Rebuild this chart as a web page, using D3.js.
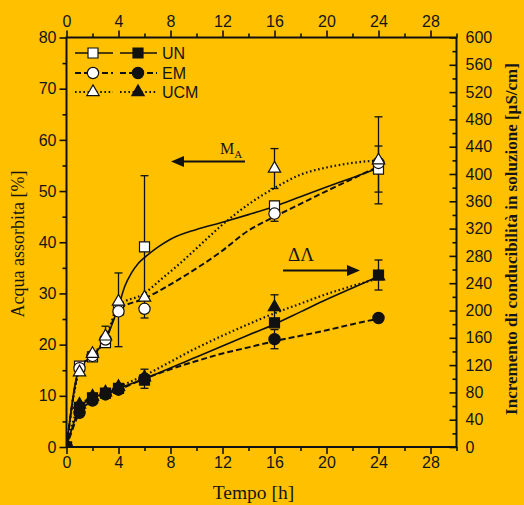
<!DOCTYPE html>
<html>
<head>
<meta charset="utf-8">
<script src="https://cdn.jsdelivr.net/npm/d3@7"></script>
<style>
  body { margin: 0; background: #FFC000; }
  svg { display: block; }
  text { fill: #151515; }
</style>
</head>
<body>
<div class="viewbox"></div>
<script>
// sampling times [h]
const hours = [0, 1, 2, 3, 4, 6, 16, 24];

// water absorbed [%] (left axis, open symbols)
const absUN  = [0, 15.8, 17.6, 20.4, 26.8, 39.1, 47.1, 54.3];
const absEM  = [0, 15.4, 17.8, 21.0, 26.5, 27.0, 45.6, 55.5];
const absUCM = [0, 14.6, 18.2, 21.6, 28.4, 29.2, 54.4, 56.0];
const errAbsUN  = [0, 0, 0, 0, 7.2, 13.9, 0, 4.5];
const errAbsEM  = [0, 0, 0, 0, 0, 0, 1.5, 0];
const errAbsUCM = [0, 0, 0, 2.0, 0, 0, 3.9, 8.5];

// conductivity increase [uS/cm] (right axis, filled symbols)
const condUN  = [0, 58, 72, 79, 86, 98, 182, 252];
const condEM  = [0, 50, 68, 77, 84, 100, 158, 189];
const condUCM = [0, 62, 74, 80, 88, 102, 205, 250];
const errCondUN  = [0, 0, 0, 0, 0, 0, 0, 22];
const errCondEM  = [0, 0, 0, 0, 0, 14, 14, 0];
const errCondUCM = [0, 0, 0, 0, 0, 0, 18, 0];

// fitted curves [t, value]
const fitAbsUN = [[0,0],[1,15.5],[2,17.8],[3,21],[4,27.5],[4.5,31.5],[5,34],[5.5,35.8],[6,37],[7,39],[8,40.6],[10,42.5],[12,43.9],[14,45.4],[16,47],[18,48.9],[20,50.8],[22,52.6],[24,54.5]];
const fitAbsEM = [[0,0],[1,15.2],[2,17.8],[3,21],[4,26.8],[6,29],[9,33.3],[11.8,38],[14,42.3],[16,45],[18,47.5],[20,50],[22,52.4],[24,54.8]];
const fitAbsUCM = [[0,0],[1,15],[2,18],[3,21.2],[4,27.6],[6,30],[7.2,32.6],[8.7,35.8],[10,38.8],[11.8,43],[14,47.4],[16,50.6],[18,53.2],[20,54.6],[22,55.5],[24,56]];
const fitCondUN = [[0,0],[1,56],[2,72],[3,79],[4,86],[6,100],[10,132],[14,164],[16,180],[18,198],[20,216],[22,233],[24,250]];
const fitCondEM = [[0,0],[1,50],[2,68],[3,77],[4,84],[6,100],[8,114],[10,126],[12,137],[14,146],[16,155],[18,163],[20,171],[22,180],[24,188]];
const fitCondUCM = [[0,0],[1,60],[2,73],[3,80],[4,88],[6,105],[10,145],[14,180],[16,196],[18,210],[20,224],[22,236],[24,247]];

// tick labels
const timeTicks = [0, 4, 8, 12, 16, 20, 24, 28];
const timeMinor = [2, 6, 10, 14, 18, 22, 26, 30];
const absTicks = [0, 10, 20, 30, 40, 50, 60, 70, 80];
const absMinor = [5, 15, 25, 35, 45, 55, 65, 75];
const condTicks = d3.range(0, 601, 40);
const condMinor = d3.range(20, 600, 40);

const legendNames = ["UN", "EM", "UCM"];

const W = 524, H = 505;
const pLeft = 66.5, pRight = 456.5, pTop = 37.5, pBottom = 447;
const sans = "'Liberation Sans', Arial, sans-serif";
const serif = "'Liberation Serif', 'Times New Roman', serif";

let svg = d3.select(".viewbox")
  .append("svg")
  .attr("width", W)
  .attr("height", H)
  .style("background", "#FFC000");

const x = d3.scaleLinear().domain([0, 30]).range([pLeft, pRight]);
const yL = d3.scaleLinear().domain([0, 80]).range([pBottom, pTop]);
const yR = d3.scaleLinear().domain([0, 600]).range([pBottom, pTop]);

svg.append("defs").append("clipPath").attr("id", "plot")
  .append("rect").attr("x", pLeft).attr("y", pTop)
  .attr("width", pRight - pLeft).attr("height", pBottom - pTop);

// line styles per series
const styles = {
  UN:  { dash: null,      width: 1.6 },
  EM:  { dash: "6,3",     width: 2 },
  UCM: { dash: "1.6,2.6", width: 2.2 }
};

const line = d3.line().curve(d3.curveMonotoneX);

function drawFit(pts, yScale, st) {
  svg.append("path")
    .attr("clip-path", "url(#plot)")
    .attr("d", line(pts.map(p => [x(p[0]), yScale(p[1])])))
    .attr("fill", "none")
    .attr("stroke", "#111")
    .attr("stroke-width", st.width)
    .attr("stroke-dasharray", st.dash);
}

drawFit(fitAbsUN, yL, styles.UN);
drawFit(fitAbsEM, yL, styles.EM);
drawFit(fitAbsUCM, yL, styles.UCM);
drawFit(fitCondUN, yR, styles.UN);
drawFit(fitCondEM, yR, styles.EM);
drawFit(fitCondUCM, yR, styles.UCM);

// error bars
function drawErr(vals, errs, yScale) {
  const g = svg.append("g").attr("stroke", "#111").attr("stroke-width", 1.3);
  hours.forEach((t, i) => {
    if (!errs[i]) return;
    const cx = x(t), y1 = yScale(vals[i] - errs[i]), y2 = yScale(vals[i] + errs[i]);
    g.append("line").attr("x1", cx).attr("x2", cx).attr("y1", y1).attr("y2", y2);
    g.append("line").attr("x1", cx - 4).attr("x2", cx + 4).attr("y1", y1).attr("y2", y1);
    g.append("line").attr("x1", cx - 4).attr("x2", cx + 4).attr("y1", y2).attr("y2", y2);
  });
}
drawErr(absUN, errAbsUN, yL);
drawErr(absEM, errAbsEM, yL);
drawErr(absUCM, errAbsUCM, yL);
drawErr(condUN, errCondUN, yR);
drawErr(condEM, errCondEM, yR);
drawErr(condUCM, errCondUCM, yR);

// markers
const shapes = {
  UN: d3.symbol().type(d3.symbolSquare).size(100),
  EM: d3.symbol().type(d3.symbolCircle).size(100),
  UCM: d3.symbol().type(d3.symbolTriangle).size(66)
};

function drawMarks(vals, yScale, name, filled) {
  svg.append("g").attr("clip-path", "url(#plot)")
    .selectAll("path")
    .data(hours.map((t, i) => [t, vals[i]]))
    .enter()
    .append("path")
    .attr("transform", d => `translate(${x(d[0])},${yScale(d[1])})`)
    .attr("d", shapes[name]())
    .attr("fill", filled ? "#111" : "#fff")
    .attr("stroke", "#111")
    .attr("stroke-width", 1.2);
}
drawMarks(absUN, yL, "UN", false);
drawMarks(absEM, yL, "EM", false);
drawMarks(absUCM, yL, "UCM", false);
drawMarks(condUN, yR, "UN", true);
drawMarks(condEM, yR, "EM", true);
drawMarks(condUCM, yR, "UCM", true);

// axes
function styleAxis(g) {
  g.select(".domain").remove();
  g.selectAll("line").attr("stroke", "#111").attr("stroke-width", 1.6);
  g.selectAll("text").style("font-family", sans).style("font-size", "16px").attr("fill", "#151515");
}

svg.append("g").attr("transform", `translate(0,${pBottom})`)
  .call(d3.axisBottom(x).tickValues(timeTicks).tickSize(7).tickPadding(3).tickFormat(d3.format("d")))
  .call(styleAxis);
svg.append("g").attr("transform", `translate(0,${pBottom})`)
  .call(d3.axisBottom(x).tickValues(timeMinor).tickSize(4).tickFormat(""))
  .call(styleAxis);
svg.append("g").attr("transform", `translate(0,${pTop})`)
  .call(d3.axisTop(x).tickValues(timeTicks).tickSize(7).tickPadding(4).tickFormat(d3.format("d")))
  .call(styleAxis);
svg.append("g").attr("transform", `translate(0,${pTop})`)
  .call(d3.axisTop(x).tickValues(timeMinor).tickSize(4).tickFormat(""))
  .call(styleAxis);
svg.append("g").attr("transform", `translate(${pLeft},0)`)
  .call(d3.axisLeft(yL).tickValues(absTicks).tickSize(7).tickPadding(3))
  .call(styleAxis);
svg.append("g").attr("transform", `translate(${pLeft},0)`)
  .call(d3.axisLeft(yL).tickValues(absMinor).tickSize(4).tickFormat(""))
  .call(styleAxis);
svg.append("g").attr("transform", `translate(${pRight},0)`)
  .call(d3.axisRight(yR).tickValues(condTicks).tickSize(-7).tickPadding(9))
  .call(styleAxis);
svg.append("g").attr("transform", `translate(${pRight},0)`)
  .call(d3.axisRight(yR).tickValues(condMinor).tickSize(-4).tickFormat(""))
  .call(styleAxis);

// frame
svg.append("rect")
  .attr("x", pLeft).attr("y", pTop)
  .attr("width", pRight - pLeft).attr("height", pBottom - pTop)
  .attr("fill", "none").attr("stroke", "#111").attr("stroke-width", 2);

// axis titles
svg.append("text")
  .attr("x", (pLeft + pRight) / 2 - 8).attr("y", 499)
  .attr("text-anchor", "middle")
  .style("font-family", serif).style("font-size", "19.5px")
  .text("Tempo [h]");

svg.append("text")
  .attr("transform", "translate(24,244) rotate(-90)")
  .attr("text-anchor", "middle")
  .style("font-family", serif).style("font-size", "18px")
  .attr("fill", "#3a2c08")
  .text("Acqua assorbita [%]");

svg.append("text")
  .attr("transform", "translate(517,239) rotate(-90)")
  .attr("text-anchor", "middle")
  .style("font-family", serif).style("font-size", "17px").style("font-weight", "bold")
  .text("Incremento di conducibilità in soluzione [µS/cm]");

// legend
const legY = [53, 73, 92];
legendNames.forEach((name, i) => {
  const st = styles[name];
  const g = svg.append("g");
  [[75, 113, 93, false], [120, 157, 138, true]].forEach(c => {
    g.append("line")
      .attr("x1", c[0]).attr("x2", c[1]).attr("y1", legY[i]).attr("y2", legY[i])
      .attr("stroke", "#111").attr("stroke-width", st.width)
      .attr("stroke-dasharray", st.dash);
    g.append("path")
      .attr("transform", `translate(${c[2]},${legY[i]})`)
      .attr("d", shapes[name]())
      .attr("fill", c[3] ? "#111" : "#fff")
      .attr("stroke", "#111").attr("stroke-width", 1.2);
  });
  g.append("text")
    .attr("x", 162).attr("y", legY[i])
    .attr("dy", "0.36em")
    .style("font-family", sans).style("font-size", "16px")
    .text(name);
});

// annotations
const ann = svg.append("g");
const ma = ann.append("text").attr("x", 220).attr("y", 154)
  .style("font-family", serif).style("font-size", "16px");
ma.append("tspan").text("M");
ma.append("tspan").attr("dy", 4).style("font-size", "11px").text("A");
ann.append("line").attr("x1", 183).attr("x2", 245).attr("y1", 161.5).attr("y2", 161.5)
  .attr("stroke", "#111").attr("stroke-width", 2);
ann.append("path").attr("d", "M171,161.5 L184,156 L184,167 Z").attr("fill", "#111");

ann.append("text").attr("x", 288).attr("y", 261)
  .style("font-family", serif).style("font-size", "19px")
  .text("ΔΛ");
ann.append("line").attr("x1", 283).attr("x2", 348).attr("y1", 270.5).attr("y2", 270.5)
  .attr("stroke", "#111").attr("stroke-width", 2);
ann.append("path").attr("d", "M360,270.5 L347,265 L347,276 Z").attr("fill", "#111");
</script>
</body>
</html>
